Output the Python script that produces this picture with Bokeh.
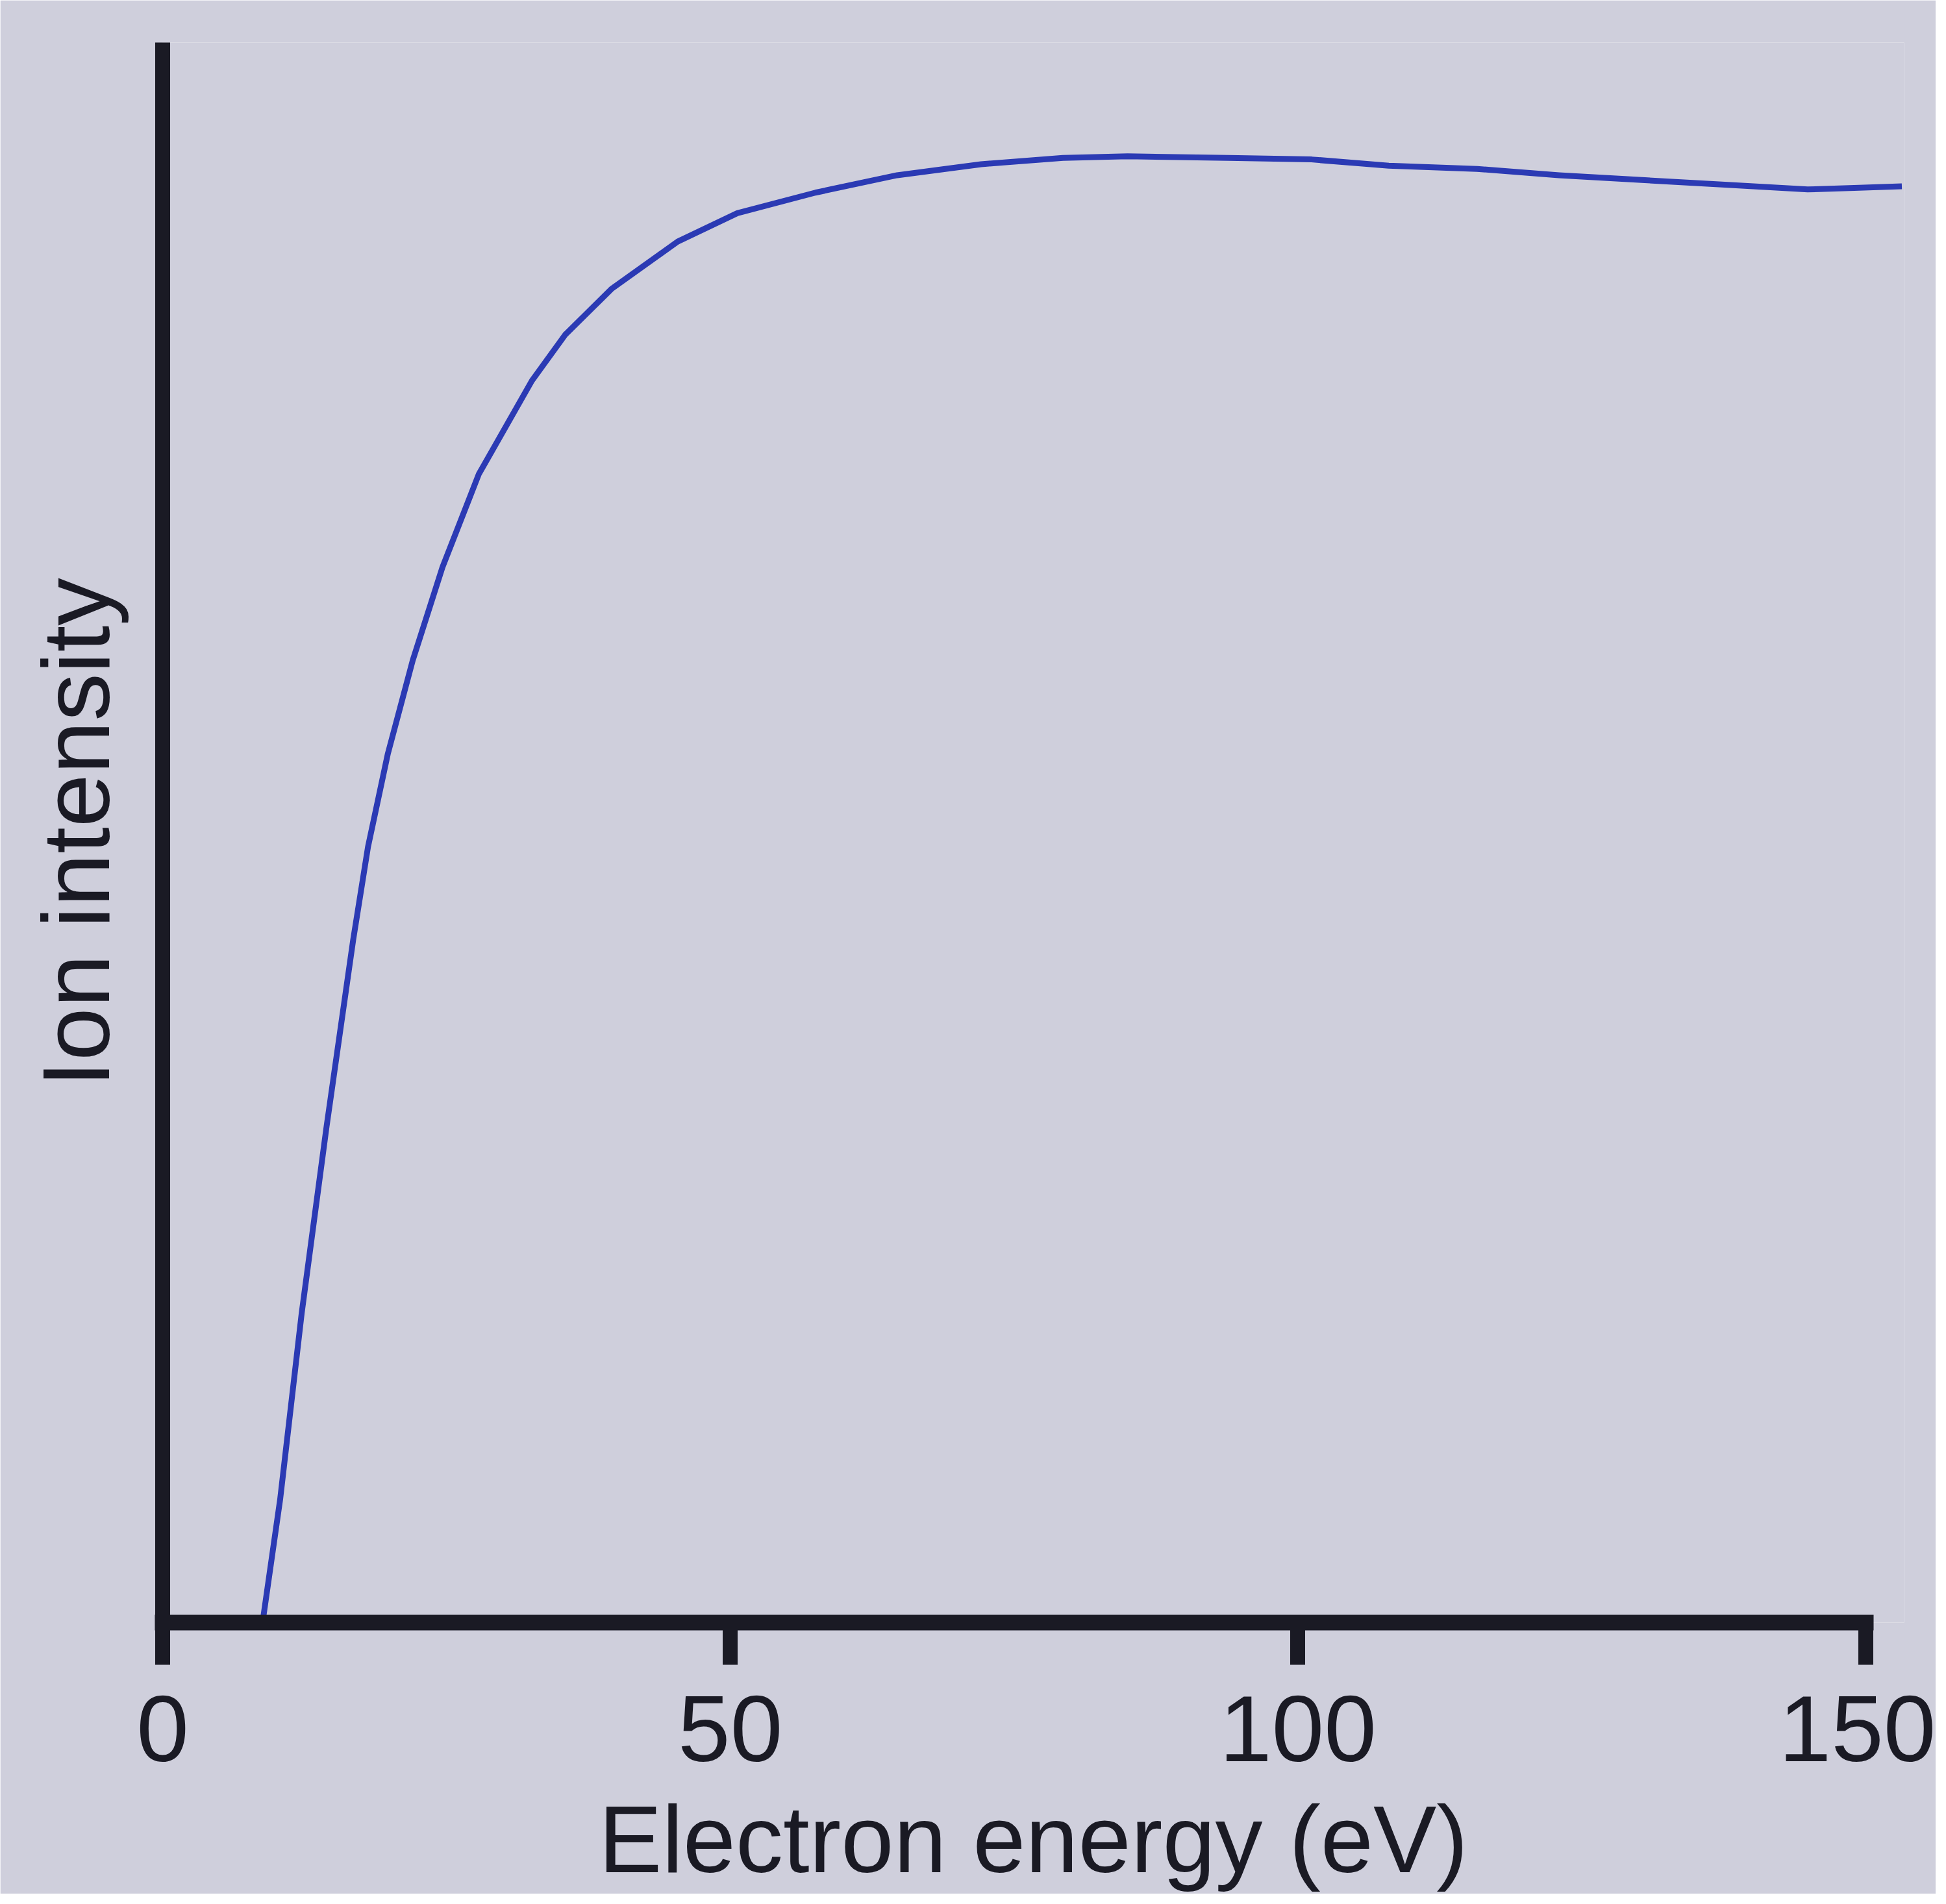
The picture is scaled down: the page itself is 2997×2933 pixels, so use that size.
from bokeh.plotting import figure
from bokeh.models import Range1d, FixedTicker
from bokeh.embed import file_html
from bokeh.resources import INLINE

# Data
energy = [8.8, 10.35, 12.25, 14.44, 15.61, 16.78, 18.09, 19.84, 22.03, 24.65,
          27.86, 32.53, 35.45, 39.53, 45.37, 50.62, 57.5, 64.7, 72.1, 79.3,
          85.0, 93.9, 101.2, 108.0, 115.8, 123.0, 130.3, 137.6, 144.9, 149.0, 153.2]
intensity = [0.0, 7.8, 19.6, 31.4, 37.3, 43.2, 49.1, 55.0, 60.9, 66.8,
             72.7, 78.6, 81.5, 84.4, 87.4, 89.2, 90.5, 91.6, 92.3, 92.7,
             92.8, 92.7, 92.6, 92.2, 92.0, 91.6, 91.3, 91.0, 90.7, 90.8, 90.9]
x_ticks = [0, 50, 100, 150]
x_title = "Electron energy (eV)"
y_title = "Ion intensity"

BG = "#cfcfdc"
INK = "#1a1a24"
CURVE = "#2b3ab4"
FONT = "Liberation Sans"

W, H = 2981, 2917
p = figure(width=W, height=H, output_backend="svg", toolbar_location=None,
           x_range=Range1d(0, 153.4), y_range=Range1d(0, 100),
           min_border_left=250, min_border_right=49,
           min_border_top=65, min_border_bottom=417)
p.background_fill_color = BG
p.border_fill_color = BG
p.outline_line_color = None
p.xgrid.visible = False
p.ygrid.visible = False

p.line(energy, intensity, line_color=CURVE, line_width=9, line_join="round")

xa = p.xaxis[0]
xa.ticker = FixedTicker(ticks=x_ticks, minor_ticks=[])
xa.bounds = (0, 150)
xa.axis_line_width = 24
xa.axis_line_color = INK
xa.axis_line_cap = "square"
xa.major_tick_line_width = 23
xa.major_tick_line_color = INK
xa.major_tick_out = 65
xa.major_tick_in = 0
xa.minor_tick_out = 0
xa.minor_tick_in = 0
xa.major_label_text_font = FONT
xa.major_label_text_font_size = "145px"
xa.major_label_text_color = INK
xa.major_label_standoff = 48
xa.axis_label = x_title
xa.axis_label_text_font = FONT
xa.axis_label_text_font_size = "146px"
xa.axis_label_text_font_style = "normal"
xa.axis_label_text_color = INK
xa.axis_label_standoff = 36

ya = p.yaxis[0]
ya.ticker = FixedTicker(ticks=[], minor_ticks=[])
ya.axis_line_width = 23
ya.axis_line_color = INK
ya.major_tick_out = 0
ya.major_tick_in = 0
ya.minor_tick_out = 0
ya.minor_tick_in = 0
ya.axis_label = y_title
ya.axis_label_text_font = FONT
ya.axis_label_text_font_size = "147px"
ya.axis_label_text_font_style = "normal"
ya.axis_label_text_color = INK
ya.axis_label_standoff = 52

open("out.html", "w").write(file_html(p, INLINE))
